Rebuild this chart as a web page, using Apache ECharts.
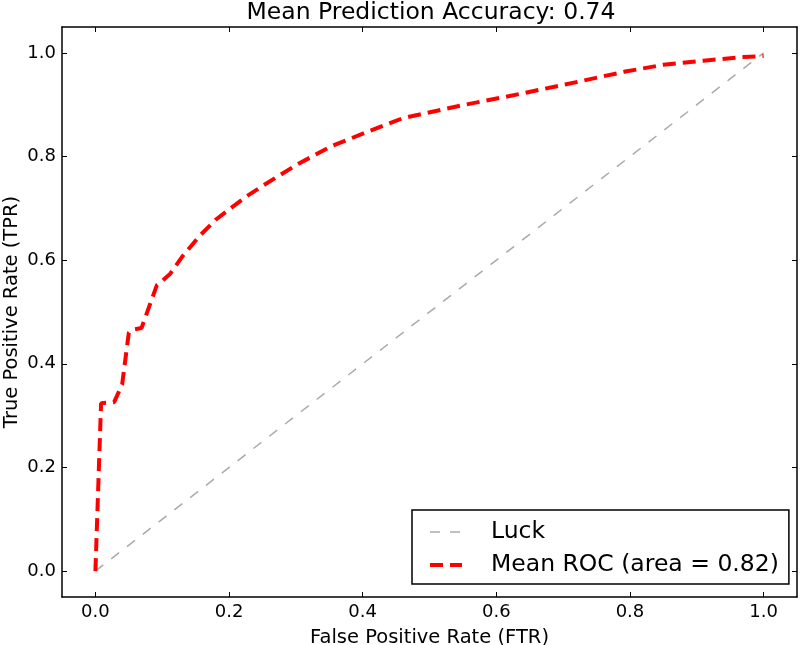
<!DOCTYPE html>
<html>
<head>
<meta charset="utf-8">
<script src="https://cdn.jsdelivr.net/npm/echarts@6/dist/echarts.min.js"></script>
<style>
  html, body { margin: 0; padding: 0; background: #fff; }
  #chart { width: 800px; height: 645px; }
</style>
</head>
<body>
<div id="chart"></div>
<script>
// ROC curve data
var rocFpr = [0, 0.0085, 0.028, 0.04, 0.05, 0.056, 0.069, 0.092, 0.1, 0.112, 0.13, 0.156, 0.18, 0.201, 0.226, 0.251, 0.301, 0.353, 0.408, 0.46, 0.553, 0.613, 0.703, 0.793, 0.85, 0.91, 0.97, 1.0];
var rocTpr = [0, 0.324, 0.326, 0.36, 0.46, 0.466, 0.469, 0.552, 0.56, 0.574, 0.607, 0.647, 0.678, 0.699, 0.723, 0.744, 0.784, 0.82, 0.848, 0.874, 0.9, 0.915, 0.939, 0.964, 0.977, 0.985, 0.992, 0.994];
var luckX = [0, 1];
var luckY = [0, 1];
var tickValues = [0, 0.2, 0.4, 0.6, 0.8, 1.0];

var font = 'DejaVu Sans';
var luckDash = { color: '#aaaaaa', width: 1.5, type: [10, 10] };
var rocDash = { color: '#ff0000', width: 4, type: [13, 7] };

function pairs(xs, ys) {
    return xs.map(function (x, i) { return [x, ys[i]]; });
}

function axis(pos, showLabel, name) {
    return {
        type: 'value',
        position: pos,
        min: -0.05,
        max: 1.05,
        name: name || '',
        nameLocation: 'middle',
        nameGap: (pos === 'left') ? 40 : 31,
        nameMoveOverlap: false,
        nameTextStyle: { fontFamily: font, fontSize: 19.5, color: '#000' },
        axisLine: { show: true, onZero: false, lineStyle: { color: '#000', width: 1.5 } },
        axisTick: {
            show: true,
            inside: true, // ticks point into the plot
            length: 5,
            customValues: tickValues,
            lineStyle: { color: '#000', width: 1 }
        },
        axisLabel: {
            show: showLabel,
            customValues: tickValues,
            margin: 6,
            fontFamily: font,
            fontSize: 18,
            color: '#000',
            formatter: function (v) { return v.toFixed(1); }
        },
        splitLine: { show: false }
    };
}

var myChart = echarts.init(document.getElementById('chart'));
var option = {
    animation: false,
    backgroundColor: '#fff',
    title: {
        text: 'Mean Prediction Accuracy: 0.74',
        left: 426,
        textAlign: 'center',
        top: -4,
        textStyle: { fontFamily: font, fontSize: 23.5, fontWeight: 'normal', color: '#000' }
    },
    grid: { left: 62, right: 3, top: 27, bottom: 48, containLabel: false, outerBoundsMode: 'none' },
    xAxis: [axis('bottom', true, 'False Positive Rate (FTR)'), axis('top', false)],
    yAxis: [axis('left', true, 'True Positive Rate (TPR)'), axis('right', false)],
    legend: {
        orient: 'vertical',
        left: 412,
        top: 510,
        padding: [10, 10, 7, 16],
        itemGap: 9,
        itemWidth: 32,
        itemHeight: 20,
        borderColor: '#000',
        borderWidth: 1.5,
        borderRadius: 0,
        backgroundColor: '#fff',
        itemStyle: { color: 'rgba(0,0,0,0)', opacity: 0, borderWidth: 0 },
        textStyle: { fontFamily: font, fontSize: 23.5, color: '#000', padding: [0, 0, 0, 24] },
        data: [
            { name: 'Luck', lineStyle: luckDash },
            { name: 'Mean ROC (area = 0.82)', lineStyle: rocDash }
        ]
    },
    series: [
        {
            name: 'Luck',
            type: 'line',
            data: pairs(luckX, luckY),
            symbol: 'none',
            lineStyle: luckDash,
            itemStyle: { color: '#aaaaaa' }
        },
        {
            name: 'Mean ROC (area = 0.82)',
            type: 'line',
            data: pairs(rocFpr, rocTpr),
            symbol: 'none',
            lineStyle: rocDash,
            itemStyle: { color: '#ff0000' }
        }
    ]
};
myChart.setOption(option);
</script>
</body>
</html>
